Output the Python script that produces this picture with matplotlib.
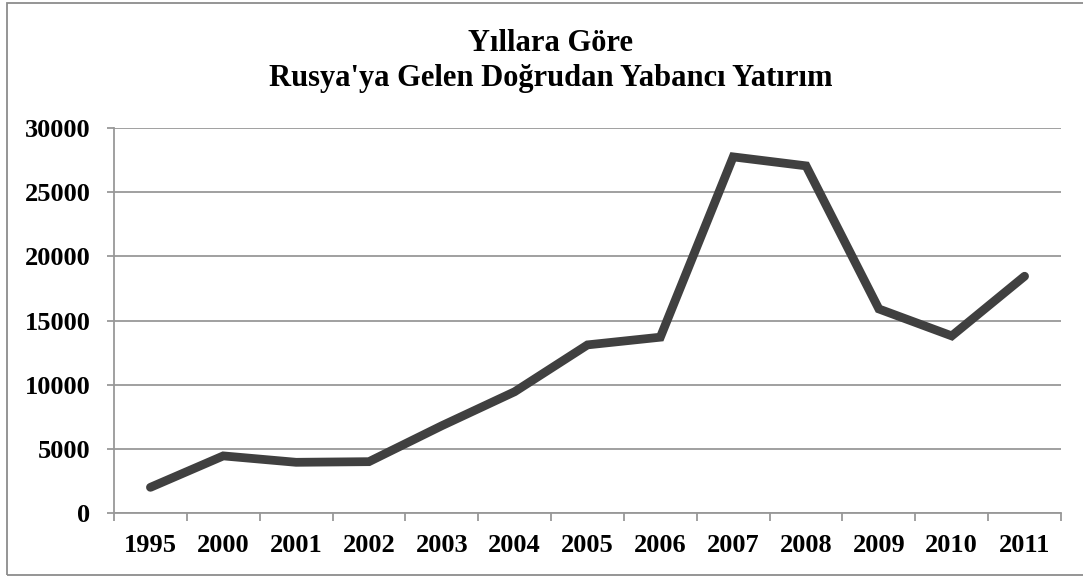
import matplotlib.pyplot as plt
from matplotlib.patches import Rectangle

years = ['1995', '2000', '2001', '2002', '2003', '2004', '2005',
         '2006', '2007', '2008', '2009', '2010', '2011']
fdi = [2000, 4450, 3950, 4000, 6800, 9450, 13100,
       13700, 27750, 27050, 15900, 13800, 18450]
yticks = [0, 5000, 10000, 15000, 20000, 25000, 30000]

plt.rcParams['font.family'] = ['Liberation Serif', 'DejaVu Serif']
plt.rcParams['font.weight'] = 'bold'

grid_col = '#989898'

fig = plt.figure(figsize=(10.83, 5.76), dpi=100)
ax = fig.add_axes([114 / 1083, 1 - 513 / 576, (1061 - 114) / 1083, (513 - 128) / 576])

x = list(range(len(years)))
ax.plot(x, fdi, color='#404040', linewidth=6.3, solid_joinstyle='miter', solid_capstyle='round', zorder=3)

ax.set_xlim(-0.5, len(years) - 0.5)
ax.set_ylim(0, 30000)
ax.set_yticks(yticks)
ax.set_yticklabels([str(v) for v in yticks])
ax.set_xticks(x)
ax.set_xticklabels(years)
ax.set_xticks([i - 0.5 for i in range(len(years) + 1)], minor=True)

ax.yaxis.grid(True, color=grid_col, linewidth=1.3)
ax.set_axisbelow(True)

for s in ['top', 'right']:
    ax.spines[s].set_visible(False)
for s in ['left', 'bottom']:
    ax.spines[s].set_color(grid_col)
    ax.spines[s].set_linewidth(1.3)

ax.tick_params(axis='y', length=5, width=1.3, color=grid_col, pad=12, labelsize=19)
ax.tick_params(axis='x', which='major', length=0, pad=15, labelsize=19)
ax.tick_params(axis='x', which='minor', length=6, width=1.3, color=grid_col)

fig.text(551 / 1083, 1 - 51 / 576, 'Yıllara Göre', ha='center', va='baseline', fontsize=22, fontweight='bold')
fig.text(551 / 1083, 1 - 86 / 576, "Rusya'ya Gelen Doğrudan Yabancı Yatırım", ha='center', va='baseline',
         fontsize=22, fontweight='bold')

fig.patches.append(Rectangle((7 / 1083, 1.5 / 576), 1.1, (574 - 2) / 576,
                             transform=fig.transFigure, fill=False, edgecolor='#8c8c8c', linewidth=1.3))

fig.savefig('out.png', dpi=100)
